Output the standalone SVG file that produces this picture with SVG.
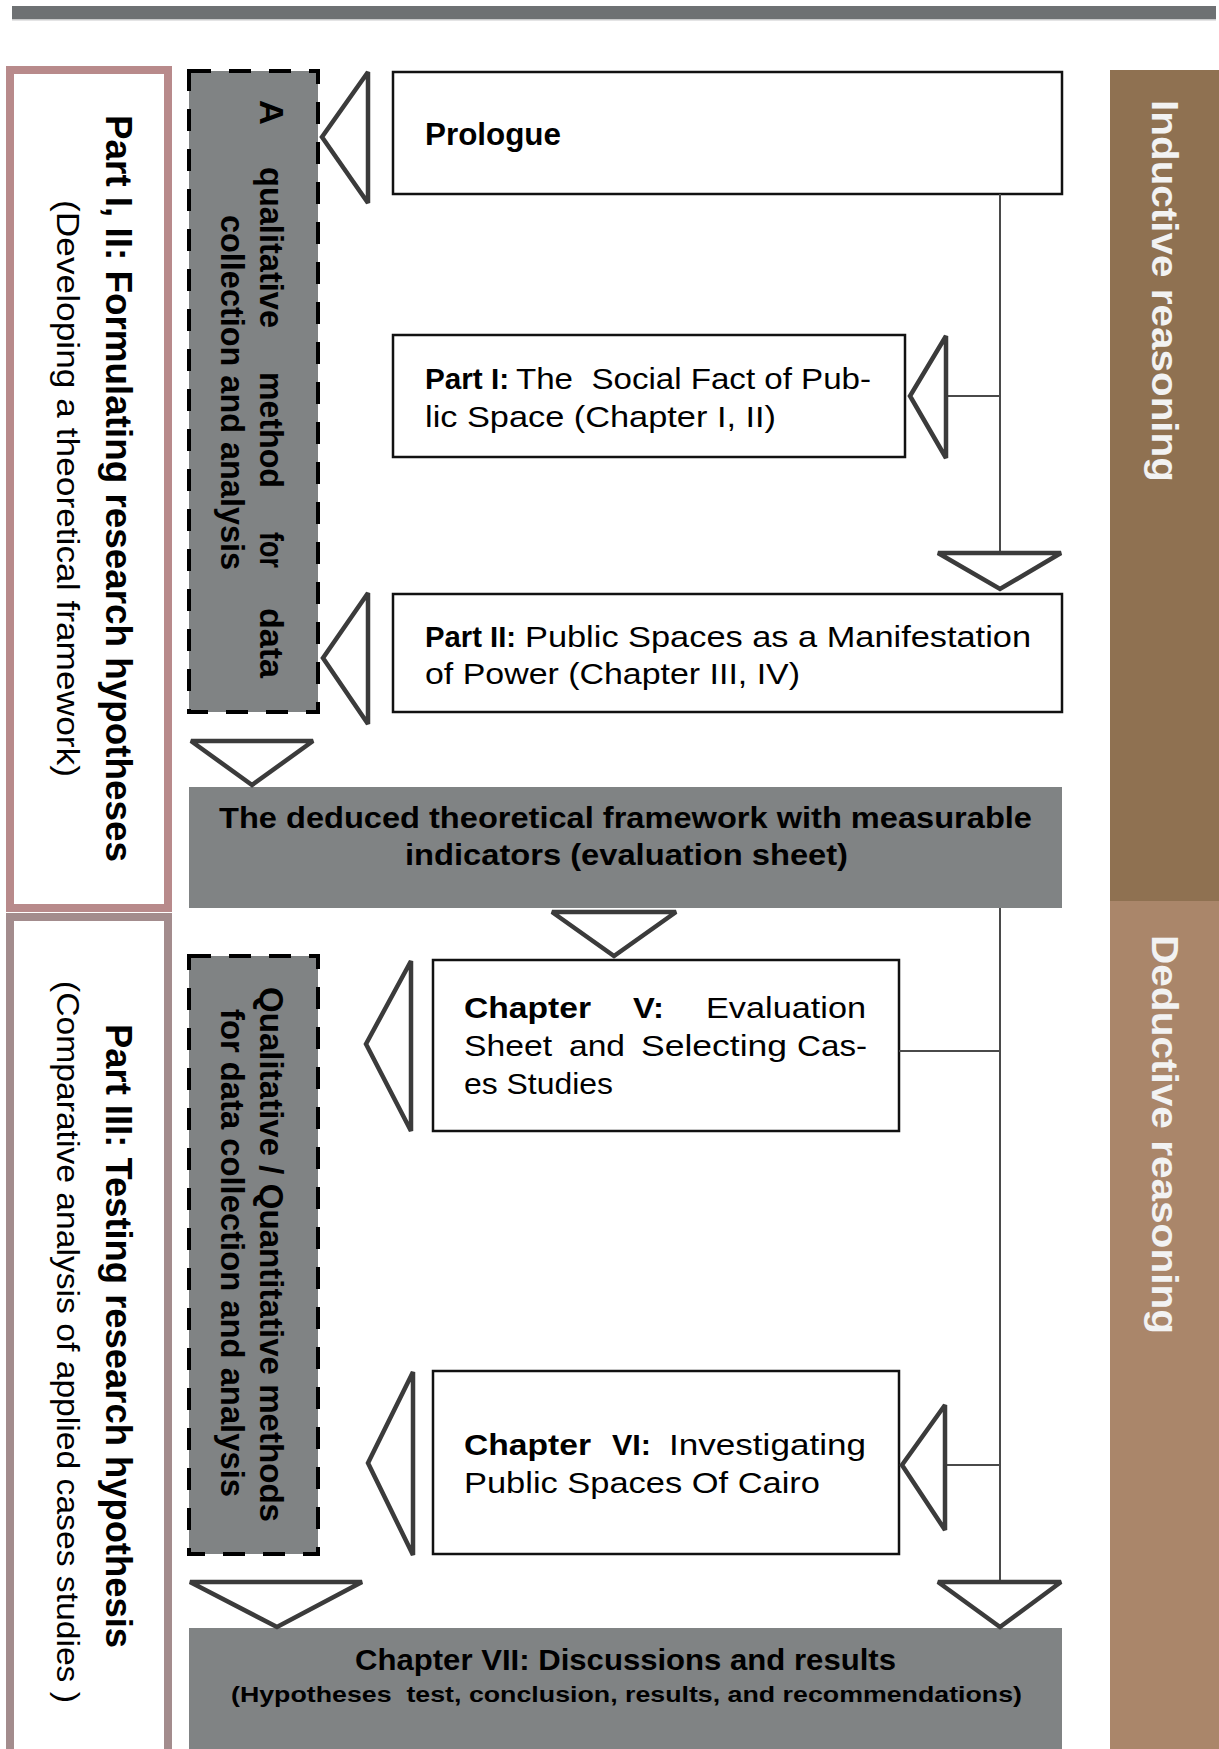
<svg xmlns="http://www.w3.org/2000/svg" width="1219" height="1749" viewBox="0 0 1219 1749">
<style>
text{font-family:"Liberation Sans",Arial,sans-serif;fill:#000;white-space:pre}
.b{font-weight:bold}
.box{fill:#fff;stroke:#111;stroke-width:2.5}
.gray{fill:#808384}
.dash{fill:#808384;stroke:#000;stroke-width:4;stroke-dasharray:22 18}
.tri{fill:none;stroke:#3b3b3b;stroke-width:4.5;stroke-linejoin:miter;stroke-miterlimit:1.5}
.ln{stroke:#4a4a4a;stroke-width:2;fill:none}
.side{fill:#f2f2f2;font-weight:bold}
</style>
<rect x="0" y="0" width="1219" height="1749" fill="#fff"/>
<g id="topbar">
<rect x="12" y="6" width="1204" height="13" fill="#6e7173"/>
<rect x="12" y="19" width="1204" height="1.5" fill="#c9cacb"/>
</g>
<g id="part12">
<rect x="10" y="70" width="158" height="838" fill="#fff" stroke="#b88a8b" stroke-width="8"/>
<text class="b" font-size="37" textLength="747" lengthAdjust="spacingAndGlyphs" transform="translate(106,115) rotate(90)">Part I, II: Formulating research hypotheses</text>
<text font-size="31" textLength="577" lengthAdjust="spacingAndGlyphs" transform="translate(57,200) rotate(90)">(Developing a theoretical framework)</text>
</g>
<g id="part3">
<rect x="10" y="917" width="158" height="900" fill="#fff" stroke="#a38c8d" stroke-width="8"/>
<text class="b" font-size="37" textLength="624" lengthAdjust="spacingAndGlyphs" transform="translate(106,1024) rotate(90)">Part III: Testing research hypothesis</text>
<text font-size="31" textLength="722" lengthAdjust="spacingAndGlyphs" transform="translate(57,981) rotate(90)">(Comparative analysis of applied cases studies )</text>
</g>
<g id="method1">
<rect class="dash" x="189" y="71" width="129" height="641"/>
<g class="b" font-size="33">
<text textLength="25" lengthAdjust="spacingAndGlyphs" transform="translate(260,100) rotate(90)">A</text>
<text textLength="161" lengthAdjust="spacingAndGlyphs" transform="translate(260,167) rotate(90)">qualitative</text>
<text textLength="116" lengthAdjust="spacingAndGlyphs" transform="translate(260,372) rotate(90)">method</text>
<text textLength="36" lengthAdjust="spacingAndGlyphs" transform="translate(260,532) rotate(90)">for</text>
<text textLength="70" lengthAdjust="spacingAndGlyphs" transform="translate(260,608) rotate(90)">data</text>
<text textLength="355" lengthAdjust="spacingAndGlyphs" transform="translate(221,215) rotate(90)">collection and analysis</text>
</g>
</g>
<g id="method2">
<rect class="dash" x="189" y="956" width="129" height="598"/>
<g class="b" font-size="33">
<text textLength="535" lengthAdjust="spacingAndGlyphs" transform="translate(260,987) rotate(90)">Qualitative / Quantitative methods</text>
<text textLength="488" lengthAdjust="spacingAndGlyphs" transform="translate(221,1009) rotate(90)">for data collection and analysis</text>
</g>
</g>
<g id="prologue">
<rect class="box" x="393" y="72" width="669" height="122"/>
<text class="b" x="425" y="145" font-size="31" textLength="136" lengthAdjust="spacingAndGlyphs">Prologue</text>
</g>
<g id="part1">
<rect class="box" x="393" y="335" width="512" height="122"/>
<text class="b" x="425" y="389" font-size="29" textLength="84" lengthAdjust="spacingAndGlyphs">Part I:</text>
<text x="516" y="389" font-size="29" textLength="355" lengthAdjust="spacingAndGlyphs">The  Social Fact of Pub-</text>
<text x="425" y="427" font-size="29" textLength="351" lengthAdjust="spacingAndGlyphs">lic Space (Chapter I, II)</text>
</g>
<g id="part2">
<rect class="box" x="393" y="594" width="669" height="118"/>
<text class="b" x="425" y="647" font-size="29" textLength="91" lengthAdjust="spacingAndGlyphs">Part II:</text>
<text x="525" y="647" font-size="29" textLength="506" lengthAdjust="spacingAndGlyphs">Public Spaces as a Manifestation</text>
<text x="425" y="684" font-size="29" textLength="375" lengthAdjust="spacingAndGlyphs">of Power (Chapter III, IV)</text>
</g>
<g id="framework">
<rect class="gray" x="189" y="787" width="873" height="121"/>
<text class="b" x="219" y="828" font-size="29" textLength="813" lengthAdjust="spacingAndGlyphs">The deduced theoretical framework with measurable</text>
<text class="b" x="405" y="865" font-size="29" textLength="443" lengthAdjust="spacingAndGlyphs">indicators (evaluation sheet)</text>
</g>
<g id="chapter5">
<rect class="box" x="433" y="960" width="466" height="171"/>
<text class="b" x="464" y="1018" font-size="29" textLength="127" lengthAdjust="spacingAndGlyphs">Chapter</text>
<text class="b" x="633" y="1018" font-size="29" textLength="31" lengthAdjust="spacingAndGlyphs">V:</text>
<text x="706" y="1018" font-size="29" textLength="160" lengthAdjust="spacingAndGlyphs">Evaluation</text>
<text x="464" y="1056" font-size="29" textLength="88" lengthAdjust="spacingAndGlyphs">Sheet</text>
<text x="569" y="1056" font-size="29" textLength="56" lengthAdjust="spacingAndGlyphs">and</text>
<text x="641" y="1056" font-size="29" textLength="146" lengthAdjust="spacingAndGlyphs">Selecting</text>
<text x="797" y="1056" font-size="29" textLength="70" lengthAdjust="spacingAndGlyphs">Cas-</text>
<text x="464" y="1094" font-size="29" textLength="149" lengthAdjust="spacingAndGlyphs">es Studies</text>
</g>
<g id="chapter6">
<rect class="box" x="433" y="1371" width="466" height="183"/>
<text class="b" x="464" y="1455" font-size="29" textLength="127" lengthAdjust="spacingAndGlyphs">Chapter</text>
<text class="b" x="612" y="1455" font-size="29" textLength="39" lengthAdjust="spacingAndGlyphs">VI:</text>
<text x="669" y="1455" font-size="29" textLength="197" lengthAdjust="spacingAndGlyphs">Investigating</text>
<text x="464" y="1493" font-size="29" textLength="356" lengthAdjust="spacingAndGlyphs">Public Spaces Of Cairo</text>
</g>
<g id="chapter7">
<rect class="gray" x="189" y="1628" width="873" height="121"/>
<text class="b" x="355" y="1670" font-size="29" textLength="541" lengthAdjust="spacingAndGlyphs">Chapter VII: Discussions and results</text>
<text class="b" x="231" y="1702" font-size="22" textLength="791" lengthAdjust="spacingAndGlyphs">(Hypotheses  test, conclusion, results, and recommendations)</text>
</g>
<g id="inductive">
<rect x="1110" y="70" width="109" height="831" fill="#8f7151"/>
<text class="side" font-size="37" textLength="382" lengthAdjust="spacingAndGlyphs" transform="translate(1152,100) rotate(90)">Inductive reasoning</text>
</g>
<g id="deductive">
<rect x="1110" y="901" width="109" height="848" fill="#aa866a"/>
<text class="side" font-size="37" textLength="399" lengthAdjust="spacingAndGlyphs" transform="translate(1152,935) rotate(90)">Deductive reasoning</text>
</g>
<g id="connectors">
<line class="ln" x1="1000" y1="194" x2="1000" y2="553"/>
<line class="ln" x1="946" y1="396" x2="1000" y2="396"/>
<line class="ln" x1="1000" y1="908" x2="1000" y2="1582"/>
<line class="ln" x1="899" y1="1051" x2="1000" y2="1051"/>
<line class="ln" x1="945" y1="1465" x2="1000" y2="1465"/>
<polygon class="tri" points="368,72 368,203 322,137"/>
<polygon class="tri" points="368,593 368,724 323,658"/>
<polygon class="tri" points="191,741 313,741 252,785"/>
<polygon class="tri" points="946,336 946,458 910,396"/>
<polygon class="tri" points="938,553 1061,553 1000,589"/>
<polygon class="tri" points="552,912 676,912 614,956"/>
<polygon class="tri" points="411,961 411,1131 366,1044"/>
<polygon class="tri" points="413,1372 413,1555 368,1463"/>
<polygon class="tri" points="945,1405 945,1530 902,1465"/>
<polygon class="tri" points="190,1582 362,1582 277,1627"/>
<polygon class="tri" points="938,1582 1061,1582 1000,1627"/>
</g>
</svg>
